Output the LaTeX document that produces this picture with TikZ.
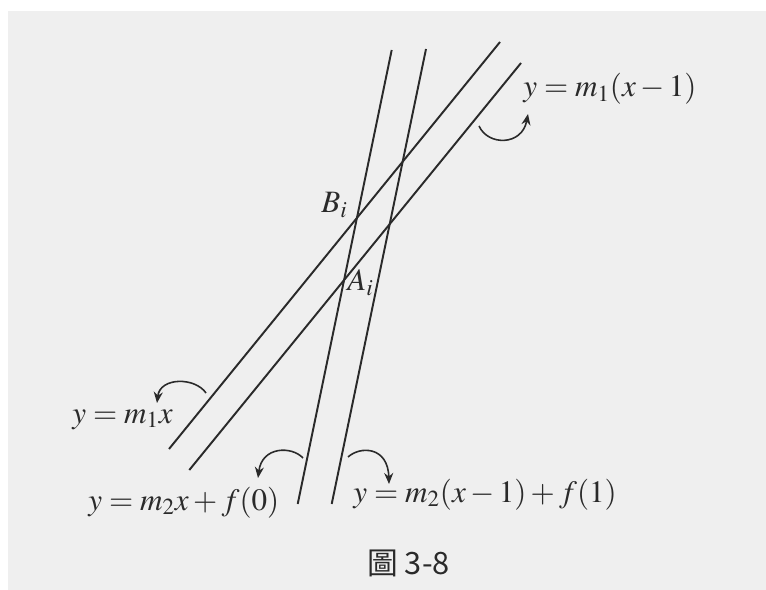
\documentclass[tikz,border=0pt]{standalone}
\usepackage{fontspec}
\usepackage{mathptmx}
\usepackage{tikz}
\usetikzlibrary{arrows.meta,positioning,calc}
\newfontfamily\cjkfont{Noto Sans CJK TC}
\definecolor{figPaper}{HTML}{EFEFEF}
\definecolor{figInk}{HTML}{2A2A2A}
\tikzset{
  figline/.style={draw=figInk, line width=1.1pt},
  figturn/.style={draw=figInk, line width=0.9pt, -{Stealth[length=2.2mm, width=1.8mm]}},
  figlabel/.style={anchor=base west, inner sep=0pt, text=figInk, font=\fontsize{17.7}{20}\selectfont},
}
\begin{document}
\begin{tikzpicture}[x=0.02cm, y=-0.02cm]
    \useasboundingbox (0,0) rectangle (766,590);
    \fill[figPaper] (8,11) rectangle (766,590);
    \coordinate (sa) at (391.7,50);  \coordinate (sb) at (297.7,504);
    \coordinate (ta) at (426,49);    \coordinate (tb) at (331.7,504);
    \coordinate (ua) at (500,42);    \coordinate (ub) at (169,449);
    \coordinate (va) at (521,63);    \coordinate (vb) at (189.3,470);
    \draw[figline] (sa)--(sb);
    \draw[figline] (ta)--(tb);
    \draw[figline] (ua)--(ub);
    \draw[figline] (va)--(vb);
    \node[figlabel] (shift1) at (523,97) {$y=m_1(x-1)$};
    \node[figlabel] (Bi) at (321,213) {$B_i$};
    \node[figlabel] (Ai) at (347,291) {$A_i$};
    \node[figlabel] (base1) at (72,423) {$y=m_1x$};
    \node[figlabel] (base2) at (88,510) {$y=m_2x+f(0)$};
    \node[figlabel] (shift2) at (353,502) {$y=m_2(x-1)+f(1)$};
    \node[anchor=base west, inner sep=0pt, text=figInk, font=\cjkfont\fontsize{17.5}{20}\selectfont] (caption) at (367,574) {圖 3-8};
    \coordinate (c1) at (479,126); \coordinate (e1) at (528,114);
    \coordinate (c2) at (206,393); \coordinate (e2) at (157,403);
    \coordinate (c3) at (303,458); \coordinate (e3) at (258,478);
    \coordinate (c4) at (348,457); \coordinate (e4) at (389,484);
    \draw[figturn] (c1) .. controls (488,146) and (522,146) .. (e1);
    \draw[figturn] (c2) .. controls (195,377) and (160,377) .. (e2);
    \draw[figturn] (c3) .. controls (292,446) and (262,446) .. (e3);
    \draw[figturn] (c4) .. controls (360,446) and (388,446) .. (e4);
\end{tikzpicture}
\end{document}
